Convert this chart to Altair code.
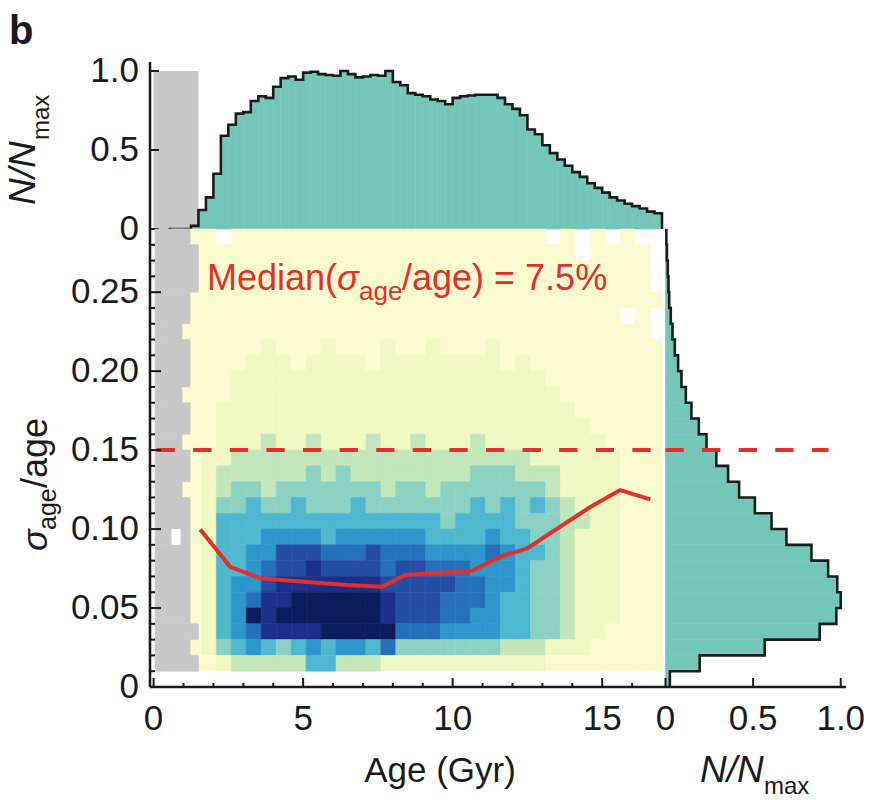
import altair as alt
import pandas as pd

FONT = "Liberation Sans"
INK = "#1b1b1b"
TEAL = "#74c7b8"
GREY = "#c8c8c8"
RED = "#e3302b"

# ---------------- texts ----------------
PANEL_LABEL = "b"
TOP_TITLE, TOP_TITLE_SUB = "N/N", "max"
Y_TITLE_SIGMA, Y_TITLE_SUB, Y_TITLE_REST = "σ", "age", "/age"
X_TITLE = "Age (Gyr)"
R_TITLE, R_TITLE_SUB = "N/N", "max"
MED_PREFIX, MED_SIGMA, MED_SUB, MED_SUFFIX = "Median(", "σ", "age", "/age) = 7.5%"

# ---------------- data ----------------
# top histogram (N/Nmax of age), bins of 0.25 Gyr from 0.5 Gyr
AGE_BIN_START = 0.5
AGE_BIN_WIDTH = 0.25
AGE_HIST = [0.0, 0.0, 0.0, 0.02, 0.12, 0.20, 0.35, 0.59, 0.66, 0.73,
            0.74, 0.81, 0.84, 0.83, 0.90, 0.955, 0.965, 0.945, 0.99, 0.995,
            0.98, 0.975, 0.97, 1.0, 0.98, 0.96, 0.965, 0.975, 0.97, 1.0,
            0.93, 0.91, 0.86, 0.85, 0.84, 0.82, 0.81, 0.79, 0.83, 0.84,
            0.845, 0.85, 0.85, 0.85, 0.83, 0.79, 0.76, 0.72, 0.63, 0.60,
            0.53, 0.48, 0.44, 0.40, 0.36, 0.33, 0.29, 0.26, 0.23, 0.20,
            0.18, 0.16, 0.145, 0.13, 0.11, 0.10]

# right histogram (N/Nmax of sigma_age/age), bins of 0.01 from 0
SIG_BIN_WIDTH = 0.01
SIG_HIST = [0.025, 0.195, 0.566, 0.88, 0.975, 1.0, 0.98, 0.928, 0.833, 0.69,
            0.605, 0.51, 0.42, 0.357, 0.29, 0.234, 0.19, 0.148, 0.116, 0.091,
            0.072, 0.053, 0.04, 0.03, 0.021, 0.017, 0.013, 0.008, 0.005]

# 2-D density: level 0 (palest) .. 9 (darkest), '.' = empty cell.
# rows from sigma 0.28-0.29 (top) down to 0.01-0.02 (bottom)
HEAT_TOP = 0.29
HEAT_ROW_HEIGHT = 0.01
HEAT_AGE_EDGES = [0.6, 1.6, 2.1, 2.6, 3.1, 3.6, 4.1, 4.6, 5.1, 5.6, 6.1, 6.6,
                  7.1, 7.6, 8.1, 8.6, 9.1, 9.6, 10.1, 10.6, 11.1, 11.6, 12.1,
                  12.6, 13.1, 13.6, 14.1, 14.6, 15.1, 15.6, 16.1, 16.6, 17.0]
HEAT_ROWS = [
    "00.000000000000000000000.0.0.0..",
    "00000000000000000000000000.0000.",
    "0000000000000000000000000000000.",
    "0000000000000000000000000000000.",
    "00000000000000000000000000000000",
    "00000000000000000000000000000.0.",
    "0000000000000000000000000000000.",
    "0000010001000100" + "1000100000000000",
    "0000111011110111" + "1111101000000000",
    "0001111111111111" + "1111111100000000",
    "0001111111111111" + "1111111110000000",
    "0011111111111111" + "1111111111000000",
    "0011111111111111" + "1111111111100000",
    "0011121121112112" + "1112111111110000",
    "0112222222222222" + "2222222111111000",
    "0122222232322222" + "2223332221111000",
    "0123323333333233" + "2333333321111000",
    "0133433433343333" + "3334343432111000",
    "0144444444444444" + "4344443332211000",
    "0144455554555555" + "4444544332111000",
    "0144557776667666" + "5555654432111000",
    "0144567787777677" + "6665554332111000",
    "0145578888888777" + "7766554332111000",
    "0145688999999877" + "7666544332111000",
    "0145989999999877" + "7665544332111000",
    "0145688889999966" + "6555544332110000",
    "0134543454554633" + "3333322211100000",
    "0012222244222111" + "1111111100000000",
]
LEVELS = list("0123456789")
LEVEL_COLORS = ["#fafcd0", "#eff7c3", "#c3e6ba", "#8bd1c3", "#4fb7cf",
                "#2e96cb", "#2570b8", "#244ea3", "#1b308a", "#0d1c5e"]

# grey (excluded) region: right edge in age for each sigma row (rows 0.01-0.02 .. 0.28-0.29)
GREY_AGE_MIN = 0.05
GREY_ROW_LOW = [0.01, 0.02, 0.03, 0.04, 0.05, 0.06, 0.07, 0.08, 0.09, 0.10,
                0.11, 0.12, 0.13, 0.14, 0.15, 0.16, 0.17, 0.18, 0.19, 0.20,
                0.21, 0.22, 0.23, 0.24, 0.25, 0.26, 0.27, 0.28]
GREY_EDGE = [1.5, 1.22, 1.5, 1.22, 1.22, 1.22, 1.22, 1.22, 1.22, 1.22,
             1.22, 0.95, 1.22, 1.22, 0.95, 1.22, 1.22, 0.95, 1.22, 1.22,
             1.22, 0.95, 1.22, 1.22, 1.5, 1.5, 1.5, 1.22]
HOLE_AGE = [0.6, 0.9]
HOLE_SIG = [0.09, 0.10]
TOP_GREY_AGE = [0.0, 1.5]
TOP_GREY_N = 1.0

# running median of sigma_age/age
MEDIAN_AGE = [1.56, 2.56, 3.57, 5.02, 6.47, 7.64, 8.42, 10.65, 11.59, 12.49, 14.6, 15.6, 16.61]
MEDIAN_SIG = [0.0998, 0.0761, 0.0688, 0.0667, 0.0646, 0.0635, 0.0709, 0.0736, 0.0825, 0.0878, 0.114, 0.1247, 0.1188]

CUT = 0.15
CUT_AGE = [0.1, 17.0]
CUT_N = [0.0, 0.93]

# ticks and tick labels
X_MAJOR = [0, 5, 10, 15]
X_LABELS = ["0", "5", "10", "15"]
X_MINOR = [1, 2, 3, 4, 6, 7, 8, 9, 11, 12, 13, 14, 16]
Y_MAJOR = [0, 0.05, 0.10, 0.15, 0.20, 0.25]
Y_LABELS = ["0", "0.05", "0.10", "0.15", "0.20", "0.25"]
Y_MINOR = [0.01, 0.02, 0.03, 0.04, 0.06, 0.07, 0.08, 0.09, 0.11, 0.12, 0.13, 0.14,
           0.16, 0.17, 0.18, 0.19, 0.21, 0.22, 0.23, 0.24, 0.26, 0.27, 0.28]
TOP_MAJOR = [0, 0.5, 1.0]
TOP_LABELS = ["0", "0.5", "1.0"]
R_MAJOR = [0, 0.5, 1.0]
R_LABELS = ["0", "0.5", "1.0"]

# ---------------- geometry ----------------
W_MAIN, H_MAIN = 512, 458
W_RIGHT, H_TOP = 184, 167
X_SCALE = alt.Scale(domain=[-0.12, 17.0], nice=False, zero=False)
Y_SCALE = alt.Scale(domain=[0.0, 0.29], nice=False, zero=False)
TOP_SCALE = alt.Scale(domain=[0.0, 1.057], nice=False, zero=False)
R_SCALE = alt.Scale(domain=[-0.02, 1.03], nice=False, zero=False)
LABEL_SIZE = 35
ONE = pd.DataFrame({"d": [0]})


def text(s, x, y, size=LABEL_SIZE, color=INK, style="normal", weight="normal",
         angle=0, align="left"):
    return alt.Chart(pd.DataFrame({"t": [s]})).mark_text(
        font=FONT, fontSize=size, color=color, fontStyle=style, fontWeight=weight,
        angle=angle, align=align, baseline="alphabetic"
    ).encode(x=alt.value(x), y=alt.value(y), text="t:N")


def yticks(vals, scale, length):
    return alt.Chart(pd.DataFrame({"t": vals})).mark_rule(color=INK, strokeWidth=2).encode(
        y=alt.Y("t:Q", scale=scale, axis=None), x=alt.value(0), x2=alt.value(length))


def xticks(vals, scale, length, h):
    return alt.Chart(pd.DataFrame({"t": vals})).mark_rule(color=INK, strokeWidth=2).encode(
        x=alt.X("t:Q", scale=scale, axis=None), y=alt.value(h), y2=alt.value(h - length))


def ylabels(vals, labs, scale):
    return alt.Chart(pd.DataFrame({"t": vals, "lab": labs})).mark_text(
        font=FONT, fontSize=LABEL_SIZE, color=INK, align="right", baseline="middle"
    ).encode(y=alt.Y("t:Q", scale=scale, axis=None), x=alt.value(-11), text="lab:N")


def xlabels(vals, labs, scale, h):
    return alt.Chart(pd.DataFrame({"t": vals, "lab": labs})).mark_text(
        font=FONT, fontSize=LABEL_SIZE, color=INK, align="center", baseline="alphabetic"
    ).encode(x=alt.X("t:Q", scale=scale, axis=None), y=alt.value(h + 43), text="lab:N")


def vline(h):
    return alt.Chart(ONE).mark_rule(color=INK, strokeWidth=2.6).encode(
        x=alt.value(0), y=alt.value(0), y2=alt.value(h))


def hline(w, h):
    return alt.Chart(ONE).mark_rule(color=INK, strokeWidth=2.6).encode(
        y=alt.value(h), x=alt.value(0), x2=alt.value(w))


# ---------------- tables ----------------
top_df = pd.DataFrame({
    "a0": [AGE_BIN_START + i * AGE_BIN_WIDTH for i in range(len(AGE_HIST))],
    "a1": [AGE_BIN_START + (i + 1) * AGE_BIN_WIDTH for i in range(len(AGE_HIST))],
    "v": AGE_HIST, "zero": 0.0})
tx, ty = [], []
for a0, a1, v in zip(top_df.a0, top_df.a1, top_df.v):
    tx += [a0, a1]
    ty += [v, v]
tx.append(top_df.a1.iloc[-1])
ty.append(0.0)
top_line = pd.DataFrame({"x": tx, "y": ty, "i": range(len(tx))})

r_df = pd.DataFrame({
    "s0": [i * SIG_BIN_WIDTH for i in range(len(SIG_HIST))],
    "s1": [(i + 1) * SIG_BIN_WIDTH for i in range(len(SIG_HIST))],
    "v": SIG_HIST, "zero": 0.0})
rx, ry = [], []
for s0, s1, v in zip(r_df.s0, r_df.s1, r_df.v):
    rx += [v, v]
    ry += [s0, s1]
r_line = pd.DataFrame({"x": rx, "y": ry, "i": range(len(rx))})

cells = []
for r, row in enumerate(HEAT_ROWS):
    s1 = round(HEAT_TOP - r * HEAT_ROW_HEIGHT, 4)
    s0 = round(s1 - HEAT_ROW_HEIGHT, 4)
    for c, ch in enumerate(row):
        if ch == ".":
            continue
        cells.append({"a0": HEAT_AGE_EDGES[c], "a1": HEAT_AGE_EDGES[c + 1],
                      "s0": s0, "s1": s1, "lvl": ch})
heat_df = pd.DataFrame(cells)

grey_df = pd.DataFrame({"a0": GREY_AGE_MIN, "a1": GREY_EDGE, "s0": GREY_ROW_LOW,
                        "s1": [round(s + HEAT_ROW_HEIGHT, 4) for s in GREY_ROW_LOW]})
hole_df = pd.DataFrame({"a0": [HOLE_AGE[0]], "a1": [HOLE_AGE[1]],
                        "s0": [HOLE_SIG[0]], "s1": [HOLE_SIG[1]]})
med_df = pd.DataFrame({"age": MEDIAN_AGE, "sig": MEDIAN_SIG})
cut_main = pd.DataFrame({"a0": [CUT_AGE[0]], "a1": [CUT_AGE[1]], "y": [CUT]})
cut_right = pd.DataFrame({"a0": [CUT_N[0]], "a1": [CUT_N[1]], "y": [CUT]})

# ---------------- top panel ----------------
top_grey = alt.Chart(pd.DataFrame({"a0": [TOP_GREY_AGE[0]], "a1": [TOP_GREY_AGE[1]],
                                   "v": [TOP_GREY_N], "zero": [0.0]})).mark_rect(color=GREY).encode(
    x=alt.X("a0:Q", scale=X_SCALE, axis=None), x2="a1:Q",
    y=alt.Y("v:Q", scale=TOP_SCALE, axis=None), y2="zero:Q")
top_fill = alt.Chart(top_df).mark_rect(color=TEAL, stroke=TEAL, strokeWidth=0.6).encode(
    x=alt.X("a0:Q", scale=X_SCALE, axis=None), x2="a1:Q",
    y=alt.Y("v:Q", scale=TOP_SCALE, axis=None), y2="zero:Q")
top_outline = alt.Chart(top_line).mark_line(color=INK, strokeWidth=2.6).encode(
    x=alt.X("x:Q", scale=X_SCALE, axis=None), y=alt.Y("y:Q", scale=TOP_SCALE, axis=None),
    order="i:Q")
top = alt.layer(
    top_grey, top_fill, top_outline,
    vline(H_TOP),
    yticks(TOP_MAJOR, TOP_SCALE, 9),
    ylabels(TOP_MAJOR, TOP_LABELS, TOP_SCALE),
    text(PANEL_LABEL, -141, -18, size=40, weight="bold"),
    text(TOP_TITLE, -115, 143, size=37, style="italic", angle=270),
    text(TOP_TITLE_SUB, -101, 78, size=24, angle=270),
).properties(width=W_MAIN, height=H_TOP)

# ---------------- main panel ----------------
heat = alt.Chart(heat_df).mark_rect(strokeWidth=0.6).encode(
    x=alt.X("a0:Q", scale=X_SCALE, axis=None), x2="a1:Q",
    y=alt.Y("s0:Q", scale=Y_SCALE, axis=None), y2="s1:Q",
    color=alt.Color("lvl:N", scale=alt.Scale(domain=LEVELS, range=LEVEL_COLORS), legend=None),
    stroke=alt.Stroke("lvl:N", scale=alt.Scale(domain=LEVELS, range=LEVEL_COLORS), legend=None),
)
grey = alt.Chart(grey_df).mark_rect(color=GREY, stroke=GREY, strokeWidth=0.6).encode(
    x=alt.X("a0:Q", scale=X_SCALE, axis=None), x2="a1:Q",
    y=alt.Y("s0:Q", scale=Y_SCALE, axis=None), y2="s1:Q")
hole = alt.Chart(hole_df).mark_rect(color="white").encode(
    x=alt.X("a0:Q", scale=X_SCALE, axis=None), x2="a1:Q",
    y=alt.Y("s0:Q", scale=Y_SCALE, axis=None), y2="s1:Q")
median = alt.Chart(med_df).mark_line(color=RED, strokeWidth=4).encode(
    x=alt.X("age:Q", scale=X_SCALE, axis=None), y=alt.Y("sig:Q", scale=Y_SCALE, axis=None))
cut_m = alt.Chart(cut_main).mark_rule(color=RED, strokeWidth=4, strokeDash=[18.3, 18.3]).encode(
    x=alt.X("a0:Q", scale=X_SCALE, axis=None), x2="a1:Q",
    y=alt.Y("y:Q", scale=Y_SCALE, axis=None))

main = alt.layer(
    heat, grey, hole, median, cut_m,
    vline(H_MAIN), hline(W_MAIN, H_MAIN),
    yticks(Y_MAJOR, Y_SCALE, 11), yticks(Y_MINOR, Y_SCALE, 5),
    xticks(X_MAJOR, X_SCALE, 9, H_MAIN), xticks(X_MINOR, X_SCALE, 4, H_MAIN),
    ylabels(Y_MAJOR, Y_LABELS, Y_SCALE),
    xlabels(X_MAJOR, X_LABELS, X_SCALE, H_MAIN),
    text(MED_PREFIX, 57, 61, size=36, color=RED),
    text(MED_SIGMA, 187, 61, size=36, color=RED, style="italic"),
    text(MED_SUB, 209, 71, size=26, color=RED),
    text(MED_SUFFIX, 252, 61, size=36, color=RED),
    text(Y_TITLE_SIGMA, -103, 322, size=36, style="italic", angle=270),
    text(Y_TITLE_SUB, -94, 301, size=25, angle=270),
    text(Y_TITLE_REST, -103, 259, size=36, angle=270),
    text(X_TITLE, 290, 553, size=35, align="center"),
).properties(width=W_MAIN, height=H_MAIN)

# ---------------- right panel ----------------
r_fill = alt.Chart(r_df).mark_rect(color=TEAL, stroke=TEAL, strokeWidth=0.6).encode(
    x=alt.X("v:Q", scale=R_SCALE, axis=None), x2="zero:Q",
    y=alt.Y("s0:Q", scale=Y_SCALE, axis=None), y2="s1:Q")
r_outline = alt.Chart(r_line).mark_line(color=INK, strokeWidth=2.6).encode(
    x=alt.X("x:Q", scale=R_SCALE, axis=None), y=alt.Y("y:Q", scale=Y_SCALE, axis=None),
    order="i:Q")
cut_r = alt.Chart(cut_right).mark_rule(color=RED, strokeWidth=4, strokeDash=[18.3, 18.3]).encode(
    x=alt.X("a0:Q", scale=R_SCALE, axis=None), x2="a1:Q",
    y=alt.Y("y:Q", scale=Y_SCALE, axis=None))
right = alt.layer(
    r_fill, r_outline, cut_r,
    hline(W_RIGHT, H_MAIN),
    xticks(R_MAJOR, R_SCALE, 9, H_MAIN),
    xlabels(R_MAJOR, R_LABELS, R_SCALE, H_MAIN),
    text(R_TITLE, 38, 553, size=37, style="italic"),
    text(R_TITLE_SUB, 102, 565, size=24),
).properties(width=W_RIGHT, height=H_MAIN)

chart = alt.vconcat(
    top,
    alt.hconcat(main, right, spacing=0, bounds="flush"),
    spacing=0, bounds="flush",
).properties(
    padding={"left": 5, "top": 12, "right": 0, "bottom": 2},
    background="white",
).configure_view(stroke=None)

chart.save("out.html", embed_options={"renderer": "svg", "actions": False})
